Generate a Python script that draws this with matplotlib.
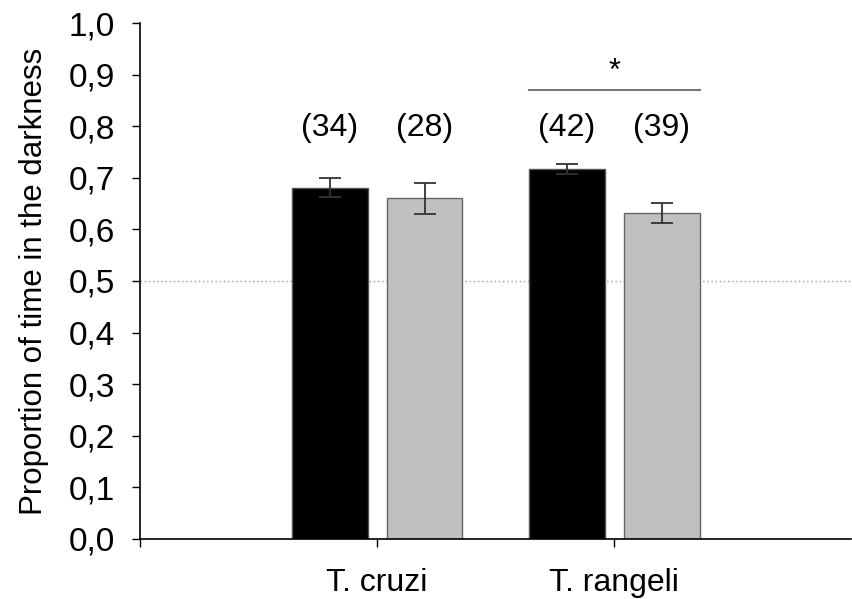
import numpy as np
import matplotlib
matplotlib.use("Agg")
import matplotlib.pyplot as plt

plt.rcParams['font.family'] = ['Liberation Sans', 'DejaVu Sans']

species = ["T. cruzi", "T. rangeli"]
black_vals = [0.681, 0.717]
black_err = [0.018, 0.010]
grey_vals = [0.660, 0.632]
grey_err = [0.030, 0.020]
black_n = ["(34)", "(42)"]
grey_n = ["(28)", "(39)"]
yticks = [0.0, 0.1, 0.2, 0.3, 0.4, 0.5, 0.6, 0.7, 0.8, 0.9, 1.0]
chance = 0.5
sig_y = 0.871
sig_mark = "*"

fig = plt.figure(figsize=(8.53, 5.99), dpi=100)
ax = fig.add_axes([0.1641, 0.1002, 0.834, 0.8614])

x = np.arange(1, len(species) + 1)
off, w = 0.2, 0.32

# dotted 50% reference line goes under the bars
ax.axhline(chance, color="#999999", lw=1, ls=(0, (1, 2)), zorder=0)

ax.bar(x - off, black_vals, w, color="black", edgecolor="#555555", lw=1, zorder=2)
ax.bar(x + off, grey_vals, w, color="#c0c0c0", edgecolor="#666666", lw=1, zorder=2)
ax.errorbar(x - off, black_vals, yerr=black_err, fmt="none", ecolor="#333333",
            elinewidth=1.3, capsize=8, capthick=1.3, zorder=3)
ax.errorbar(x + off, grey_vals, yerr=grey_err, fmt="none", ecolor="#333333",
            elinewidth=1.3, capsize=8, capthick=1.3, zorder=3)

for xi, lab in zip(x - off, black_n):
    ax.text(xi, 0.797, lab, ha="center", va="center", fontsize=23)
for xi, lab in zip(x + off, grey_n):
    ax.text(xi, 0.797, lab, ha="center", va="center", fontsize=23)

# significance bar over T. rangeli
ax.plot([x[1] - off - w / 2, x[1] + off + w / 2], [sig_y, sig_y], color="#777777", lw=1.5)
ax.text(x[1], sig_y + 0.006, sig_mark, ha="center", va="bottom", fontsize=22)

ax.set_xlim(0, 3)
ax.set_ylim(0, 1.0)
ax.set_yticks(yticks)
ax.set_yticklabels([f"{v:.1f}".replace(".", ",") for v in yticks], fontsize=24)
ax.set_xticks(x)
ax.set_xticklabels(species, fontsize=23)
ax.set_xticks([0], minor=True)
ax.tick_params(axis="x", which="both", length=6, width=1, pad=15)
ax.tick_params(axis="y", length=6, width=1, pad=12)
ax.set_ylabel("Proportion of time in the darkness", fontsize=22.5, labelpad=14)

for s in ["top", "right"]:
    ax.spines[s].set_visible(False)
for s in ["left", "bottom"]:
    ax.spines[s].set_linewidth(1.2)

fig.savefig("out.png", dpi=100)
